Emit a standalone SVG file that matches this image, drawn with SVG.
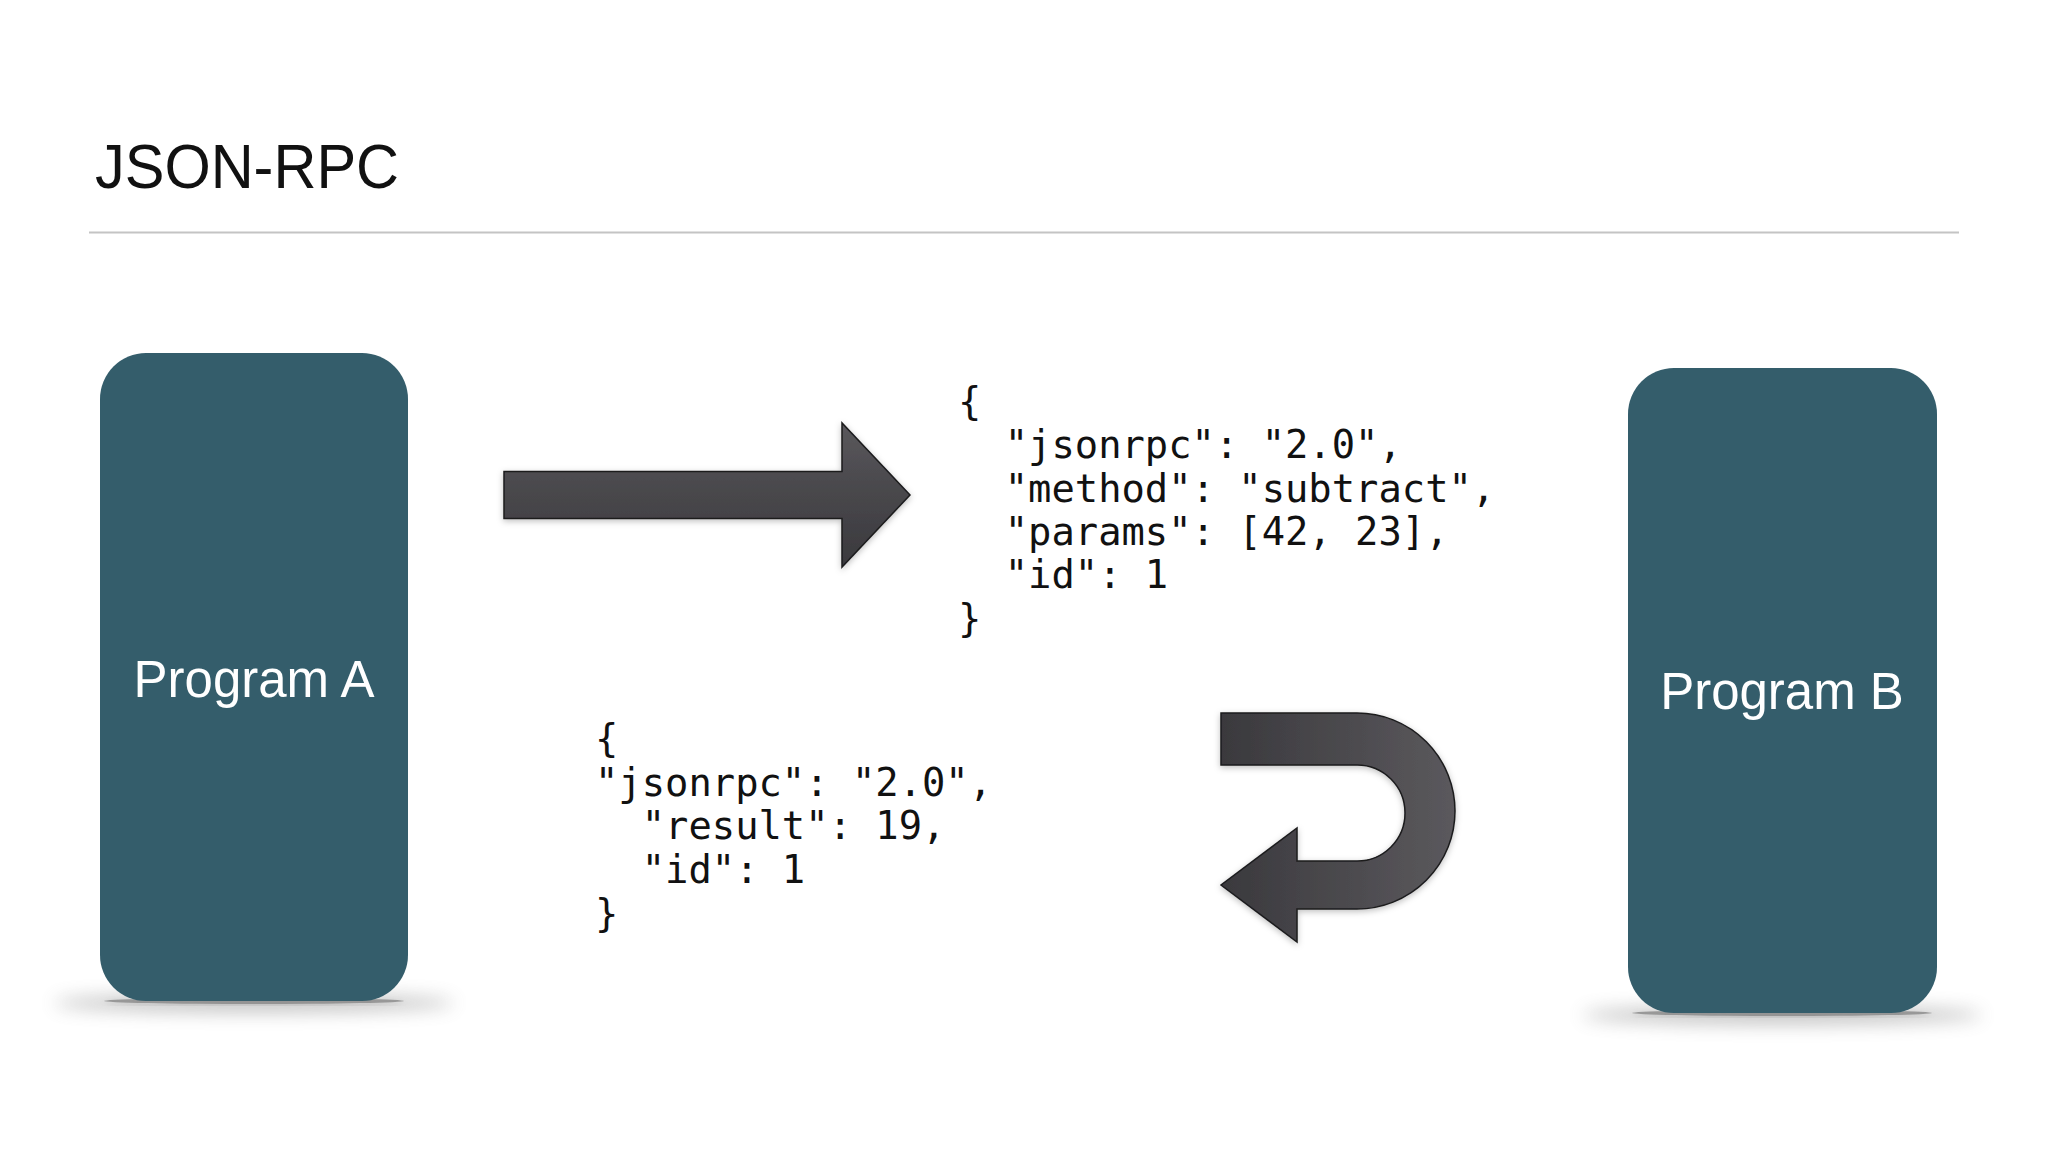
<svg xmlns="http://www.w3.org/2000/svg" width="2048" height="1152" viewBox="0 0 2048 1152">
  <style>
    .title { font-family: "Liberation Sans", Arial, sans-serif; font-size: 63px; fill: #111; }
    .label { font-family: "Liberation Sans", Arial, sans-serif; font-size: 51px; fill: #ffffff; text-anchor: middle; }
    .code { font-family: "DejaVu Sans Mono", "Liberation Mono", monospace; font-size: 38.8px; fill: #111; white-space: pre; }
    .box { fill: #345d6b; }
    .arrow { stroke: #1c1c1e; stroke-width: 1.5; stroke-linejoin: miter; }
  </style>
  <defs>
    <linearGradient id="gradRight" x1="0" y1="0" x2="0" y2="1">
      <stop offset="0" stop-color="#5a585c"/>
      <stop offset="0.5" stop-color="#48474b"/>
      <stop offset="1" stop-color="#3a393d"/>
    </linearGradient>
    <linearGradient id="gradU" x1="0" y1="0" x2="1" y2="0">
      <stop offset="0" stop-color="#3a393d"/>
      <stop offset="1" stop-color="#5b595d"/>
    </linearGradient>
    <filter id="boxShadow" x="-30%" y="-300%" width="160%" height="700%">
      <feGaussianBlur stdDeviation="9"/>
    </filter>
    <filter id="arrowShadow" x="-10%" y="-20%" width="120%" height="140%">
      <feDropShadow dx="0" dy="2" stdDeviation="3" flood-color="#000" flood-opacity="0.25"/>
    </filter>
  </defs>

  <rect x="0" y="0" width="2048" height="1152" fill="#ffffff"/>

  <g id="title">
    <text class="title" x="95" y="188" textLength="304" lengthAdjust="spacingAndGlyphs">JSON-RPC</text>
    <line x1="89" y1="232.5" x2="1959" y2="232.5" stroke="#c4c4c4" stroke-width="2"/>
  </g>

  <g id="programA">
    <ellipse cx="254" cy="1003" rx="200" ry="9" fill="#777" opacity="0.45" filter="url(#boxShadow)"/>
    <ellipse cx="254" cy="1001" rx="150" ry="3" fill="#555" opacity="0.5" filter="url(#arrowShadow)"/>
    <rect class="box" x="100" y="353" width="308" height="648" rx="46" ry="46"/>
    <text class="label" x="254" y="697">Program A</text>
  </g>

  <g id="programB">
    <ellipse cx="1782" cy="1015" rx="200" ry="9" fill="#777" opacity="0.45" filter="url(#boxShadow)"/>
    <ellipse cx="1782" cy="1013" rx="150" ry="3" fill="#555" opacity="0.5" filter="url(#arrowShadow)"/>
    <rect class="box" x="1628" y="368" width="309" height="645" rx="46" ry="46"/>
    <text class="label" x="1782" y="709">Program B</text>
  </g>

  <g id="request">
    <text class="code" x="958" y="415">{</text>
    <text class="code" x="958" y="458">  "jsonrpc": "2.0",</text>
    <text class="code" x="958" y="502">  "method": "subtract",</text>
    <text class="code" x="958" y="545">  "params": [42, 23],</text>
    <text class="code" x="958" y="588">  "id": 1</text>
    <text class="code" x="958" y="632">}</text>
  </g>

  <g id="response">
    <text class="code" x="595" y="752">{</text>
    <text class="code" x="595" y="796">"jsonrpc": "2.0",</text>
    <text class="code" x="595" y="839">  "result": 19,</text>
    <text class="code" x="595" y="883">  "id": 1</text>
    <text class="code" x="595" y="927">}</text>
  </g>

  <g id="connectors">
    <path id="arrowRequest" class="arrow" fill="url(#gradRight)" filter="url(#arrowShadow)"
          d="M504,471.5 H842 V423 L910,495 L842,567 V518.5 H504 Z"/>
    <path id="arrowResponse" class="arrow" fill="url(#gradU)" filter="url(#arrowShadow)"
          d="M1221,713 H1357 A98,98 0 0 1 1357,909 H1297 V942 L1221,885 L1297,828 V861 H1357 A48,48 0 0 0 1357,765 H1221 Z"/>
  </g>
</svg>
